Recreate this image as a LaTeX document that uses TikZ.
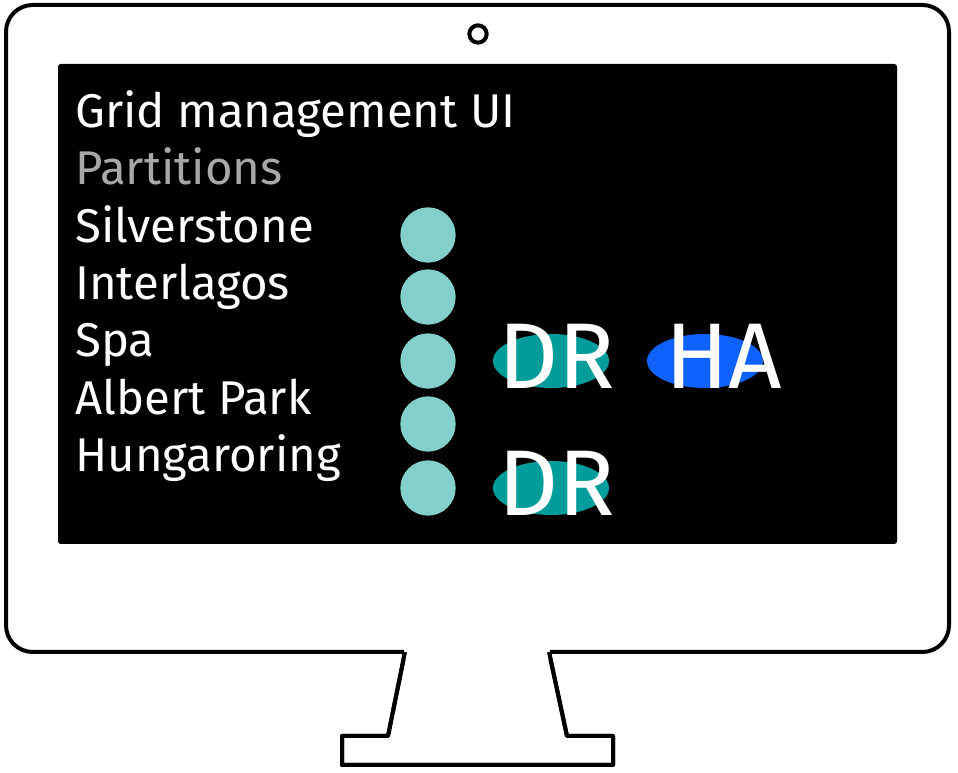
\documentclass[tikz,border=0pt]{standalone}
\usepackage{fontspec}
\setmainfont{Fira Sans}
\usetikzlibrary{shapes.geometric}
\definecolor{dotteal}{HTML}{82CFCB}
\definecolor{drteal}{HTML}{009D9A}
\definecolor{habblue}{HTML}{0F62FE}
\definecolor{dimgray}{HTML}{A8A8A8}
\tikzset{
  outline/.style={draw=black, line width=3pt, line join=round, fill=white},
  label/.style={anchor=base west, inner sep=0pt, text=white, font=\fontsize{35.5}{38}\selectfont},
  dot/.style={circle, fill=dotteal, minimum size=41.5pt, inner sep=0pt},
  badge/.style={ellipse, minimum width=87pt, minimum height=40.5pt, inner sep=0pt},
  badgetext/.style={anchor=base west, inner sep=0pt, text=white, font=\fontsize{70}{74}\selectfont},
}
\begin{document}
\begin{tikzpicture}[x=0.75pt, y=-0.75pt]
\useasboundingbox (0,0) rectangle (958,773);
% stand
\draw[outline] (405,652) -- (388,736) -- (342,736) -- (342,765) -- (613,765)
  -- (613,736) -- (567,736) -- (549,652);
% monitor body
\draw[outline, rounded corners=20] (6,5) rectangle (949,652);
\fill[white] (404,648) rectangle (550,660);
\draw[line width=3pt, line join=round] (405,652) -- (388,736) -- (342,736) -- (342,765) -- (613,765)
  -- (613,736) -- (567,736) -- (549,652);
% camera
\node[circle, draw=black, line width=3pt, minimum size=13pt, inner sep=0pt] (cam) at (478,34) {};
% screen
\fill[black, rounded corners=2] (58,64) rectangle (897,544);
% texts
\node[label] (title) at (75,128) {Grid management UI};
\node[label, text=dimgray] (part) at (75,185) {Partitions};
\node[label] (p1) at (75,243) {Silverstone};
\node[label] (p2) at (75,300) {Interlagos};
\node[label] (p3) at (75,357) {Spa};
\node[label] (p4) at (75,415) {Albert Park};
\node[label] (p5) at (75,472) {Hungaroring};
% partition dots
\node[dot] (d1) at (428,235) {};
\node[dot] (d2) at (428,297) {};
\node[dot] (d3) at (428,361) {};
\node[dot] (d4) at (428,424) {};
\node[dot] (d5) at (428,488) {};
% badges
\node[badge, fill=drteal] (dr1) at (551,361) {};
\node[badge, fill=habblue] (ha) at (705,361) {};
\node[badge, fill=drteal] (dr2) at (551,488) {};
\node[badgetext] (dr1t) at (498,389) {DR};
\node[badgetext] (hat) at (665,389) {HA};
\node[badgetext] (dr2t) at (498,516) {DR};
\end{tikzpicture}
\end{document}
